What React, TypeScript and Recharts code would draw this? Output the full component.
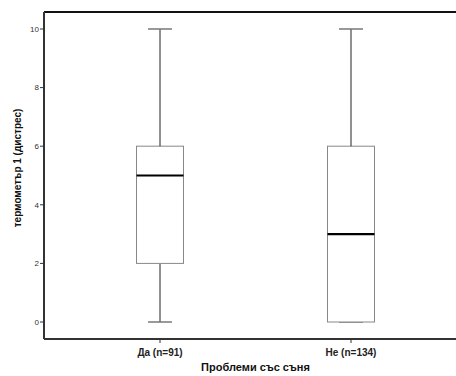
import React from "react";
import { ComposedChart, Bar, XAxis, YAxis, ReferenceLine } from "recharts";

const categories = ["Да (n=91)", "Не (n=134)"];
const minValues = [0, 0];
const q1Values = [2, 0];
const medianValues = [5, 3];
const q3Values = [6, 6];
const maxValues = [10, 10];
const yTicks = [0, 2, 4, 6, 8, 10];

const data = categories.map((name, i) => ({
  name,
  base: minValues[i],
  lowWhisker: q1Values[i] - minValues[i],
  lowBox: medianValues[i] - q1Values[i],
  highBox: q3Values[i] - medianValues[i],
  highWhisker: maxValues[i] - q3Values[i],
}));

const FONT = "'Liberation Sans', Arial, sans-serif";
const CAP = 24;

const LowWhisker = (p: any) => {
  const { x, y, width, height } = p;
  const cx = x + width / 2;
  const bottom = y + height;
  return (
    <g>
      <line x1={cx} x2={cx} y1={y} y2={bottom} stroke="#222" strokeWidth={1} />
      <line x1={cx - CAP / 2} x2={cx + CAP / 2} y1={bottom} y2={bottom} stroke="#777" strokeWidth={1.5} />
    </g>
  );
};

const HighWhisker = (p: any) => {
  const { x, y, width, height } = p;
  const cx = x + width / 2;
  return (
    <g>
      <line x1={cx} x2={cx} y1={y} y2={y + height} stroke="#222" strokeWidth={1} />
      <line x1={cx - CAP / 2} x2={cx + CAP / 2} y1={y} y2={y} stroke="#777" strokeWidth={1.5} />
    </g>
  );
};

const LowBox = (p: any) => {
  const { x, y, width, height } = p;
  return (
    <g>
      <rect x={x} y={y} width={width} height={height} fill="#fff" stroke="#888" strokeWidth={1} />
    </g>
  );
};

const HighBox = (p: any) => {
  const { x, y, width, height } = p;
  return (
    <g>
      <rect x={x} y={y} width={width} height={height} fill="#fff" stroke="#888" strokeWidth={1} />
      <line x1={x} x2={x + width} y1={y + height} y2={y + height} stroke="#000" strokeWidth={2.2} />
    </g>
  );
};

const XTitle = (props: any) => {
  const vb = props.viewBox || {};
  return (
    <text x={vb.x + vb.width / 2} y={vb.y + 32} textAnchor="middle" fontFamily={FONT} fontWeight="bold" fontSize={11} fill="#111">
      Проблеми със съня
    </text>
  );
};

const YTitle = () => (
  <text
    x={0}
    y={0}
    transform="translate(21,168) rotate(-90)"
    textAnchor="middle"
    fontFamily={FONT}
    fontWeight="bold"
    fontSize={10}
    fill="#111"
  >
    термометър 1 (дистрес)
  </text>
);

export default function App() {
  return (
    <div style={{ position: "fixed", left: 0, top: 0, width: 456, height: 376, overflow: "hidden", background: "#fff" }}>
      <ComposedChart
        width={480}
        height={376}
        data={data}
        margin={{ top: 12, right: 13, bottom: 0, left: 0 }}
      >
        <XAxis
          dataKey="name"
          type="category"
          height={37}
          padding={{ left: 20.5, right: 20.5 }}
          axisLine={{ stroke: "#333", strokeWidth: 2 }}
          tickLine={{ stroke: "#333" }}
          tickSize={4}
          tickMargin={6}
          tick={{ fontFamily: FONT, fontSize: 10, fontWeight: "bold", fill: "#222" }}
          label={<XTitle />}
        />
        <YAxis
          type="number"
          domain={[-0.58, 10.58]}
          ticks={yTicks}
          allowDataOverflow
          width={44}
          axisLine={{ stroke: "#333", strokeWidth: 2 }}
          tickLine={{ stroke: "#333" }}
          tickSize={4}
          tickMargin={1}
          tick={{ fontFamily: FONT, fontSize: 8, fill: "#333" }}
          label={<YTitle />}
        />
        <ReferenceLine y={10.58} stroke="#111" strokeWidth={2} ifOverflow="visible" />
        <Bar dataKey="base" stackId="a" fill="transparent" barSize={47} isAnimationActive={false} />
        <Bar dataKey="lowWhisker" stackId="a" shape={LowWhisker} barSize={47} isAnimationActive={false} />
        <Bar dataKey="lowBox" stackId="a" shape={LowBox} barSize={47} isAnimationActive={false} />
        <Bar dataKey="highBox" stackId="a" shape={HighBox} barSize={47} isAnimationActive={false} />
        <Bar dataKey="highWhisker" stackId="a" shape={HighWhisker} barSize={47} isAnimationActive={false} />
      </ComposedChart>
    </div>
  );
}
